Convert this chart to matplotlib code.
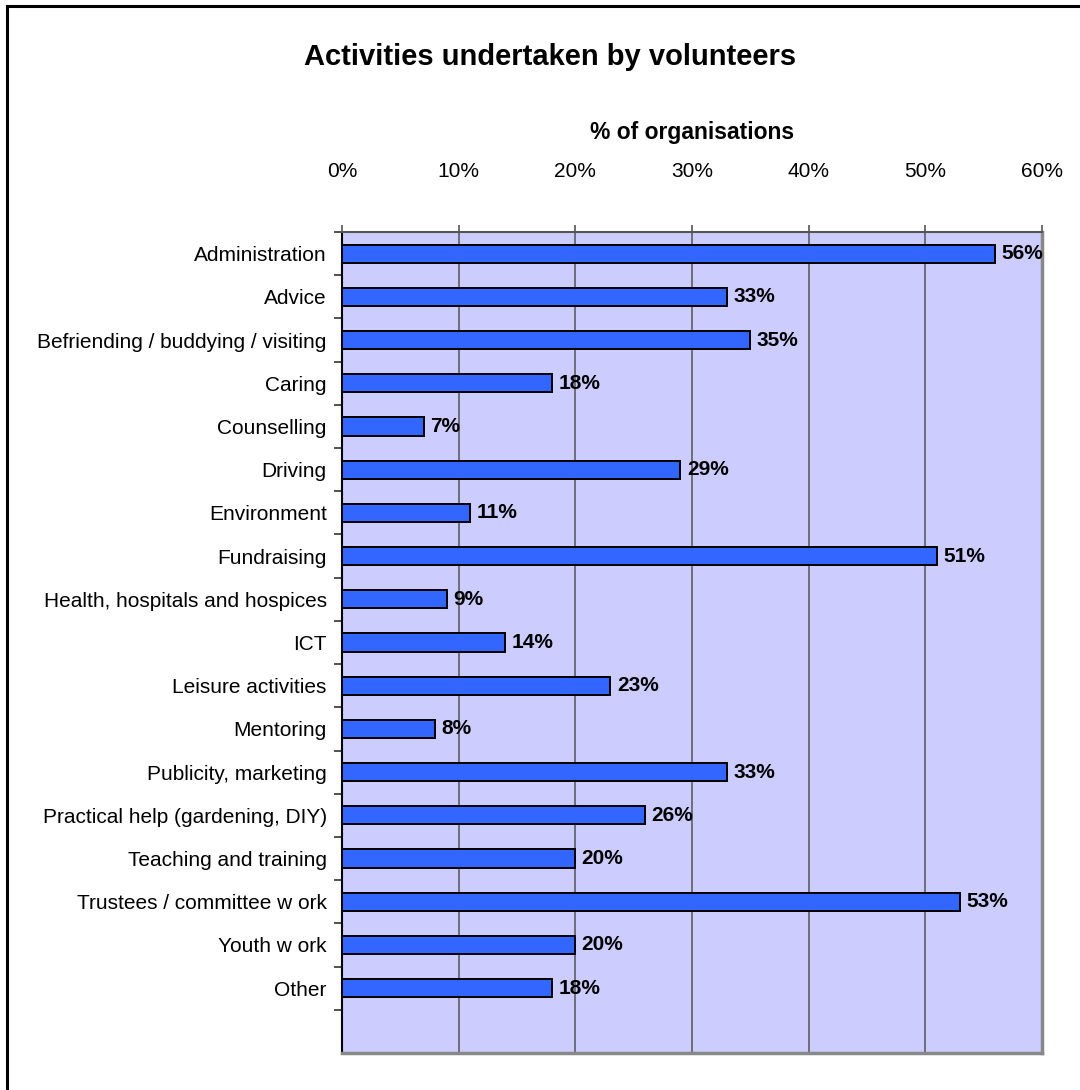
import matplotlib
matplotlib.use("Agg")
import matplotlib.pyplot as plt
from matplotlib.patches import Rectangle
from matplotlib.ticker import FixedLocator, FuncFormatter

plt.rcParams['font.family'] = ['Liberation Sans', 'DejaVu Sans']

categories = [
    "Administration", "Advice", "Befriending / buddying / visiting", "Caring",
    "Counselling", "Driving", "Environment", "Fundraising",
    "Health, hospitals and hospices", "ICT", "Leisure activities", "Mentoring",
    "Publicity, marketing", "Practical help (gardening, DIY)",
    "Teaching and training", "Trustees / committee w ork", "Youth w ork", "Other",
]
values = [56, 33, 35, 18, 7, 29, 11, 51, 9, 14, 23, 8, 33, 26, 20, 53, 20, 18]
x_ticks = [0, 10, 20, 30, 40, 50, 60]

W, H = 1080, 1090
fig = plt.figure(figsize=(W / 100, H / 100), dpi=100)
fig.patch.set_facecolor("white")

# outer chart frame
fig.patches.append(Rectangle((7 / W, -0.05), 1.2, 1 - 6 / H + 0.05,
                             transform=fig.transFigure, fill=False,
                             edgecolor="black", linewidth=2.2))

ax = fig.add_axes([342 / W, 1 - 1053 / H, 700 / W, 821 / H])
ax.set_facecolor("#CCCCFF")

ypos = list(range(len(categories)))
ax.barh(ypos, values, height=0.42, color="#3366FF", edgecolor="black",
        linewidth=1.4, zorder=3)

for y, v in zip(ypos, values):
    ax.text(v + 0.55, y, f"{v}%", va="center", ha="left", fontsize=15,
            fontweight="bold", zorder=4)

ax.set_xlim(0, 60)
ax.set_ylim(len(categories) + 0.5, -0.5)

ax.xaxis.set_ticks_position("top")
ax.xaxis.set_label_position("top")
ax.set_xticks(x_ticks)
ax.xaxis.set_major_formatter(FuncFormatter(lambda v, p: f"{int(v)}%"))
ax.tick_params(axis="x", direction="out", length=5, width=1.2,
               color="#555555", labelsize=15, pad=31.5)
ax.set_xlabel("% of organisations", fontsize=16.5, fontweight="bold", labelpad=17)

ax.set_yticks(ypos)
ax.set_yticklabels(categories)
ax.tick_params(axis="y", which="major", length=0, labelsize=15, pad=11)
ax.yaxis.set_minor_locator(FixedLocator([i - 0.5 for i in range(len(categories) + 1)]))
ax.tick_params(axis="y", which="minor", direction="out", length=6, width=1.2,
               color="#333333")

ax.grid(axis="x", color="#6E6E7A", linewidth=1.4, zorder=1)
ax.set_axisbelow(True)

ax.spines["left"].set_color("black")
ax.spines["left"].set_linewidth(1.5)
ax.spines["top"].set_color("#555555")
ax.spines["top"].set_linewidth(1.5)
for s in ("right", "bottom"):
    ax.spines[s].set_color("#888888")
    ax.spines[s].set_linewidth(2.5)

fig.text(550 / W, 1 - 57 / H, "Activities undertaken by volunteers",
         ha="center", va="center", fontsize=21, fontweight="bold")

fig.savefig("out.png", dpi=100)
